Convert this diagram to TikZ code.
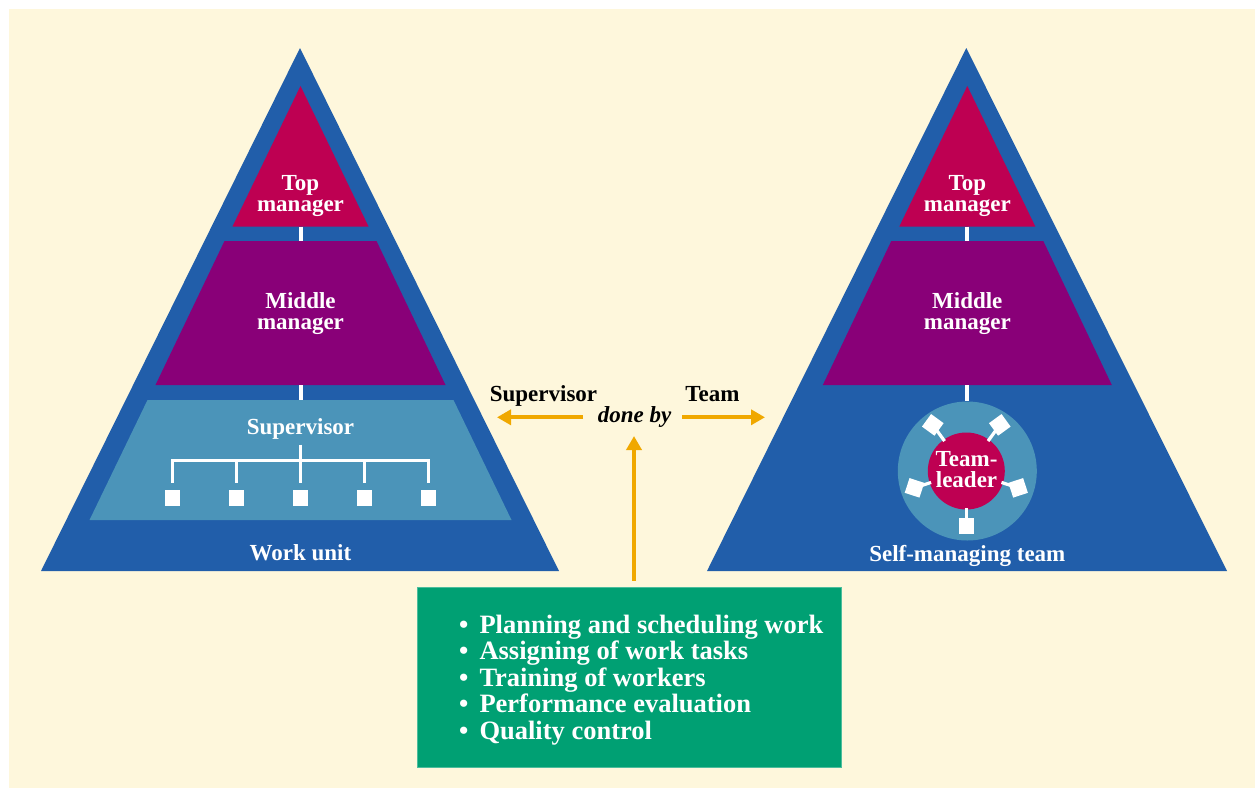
\documentclass[tikz,border=0pt]{standalone}
\usepackage{fontspec}
\setmainfont{Liberation Serif}
\usetikzlibrary{arrows.meta,calc}
\definecolor{cream}{RGB}{254,247,220}
\definecolor{pyrblue}{RGB}{33,94,170}
\definecolor{topmag}{RGB}{190,0,82}
\definecolor{midpur}{RGB}{137,0,120}
\definecolor{suplight}{RGB}{75,148,185}
\definecolor{boxgreen}{RGB}{0,160,115}
\definecolor{arrorange}{RGB}{240,168,0}
\tikzset{
  lbl/.style={anchor=base, inner sep=0pt, text=white, font=\fontsize{23}{20}\selectfont\bfseries},
  blk/.style={anchor=base, inner sep=0pt, text=black, font=\fontsize{23}{20}\selectfont\bfseries},
  item/.style={anchor=base west, inner sep=0pt, text=white, font=\fontsize{26.5}{26.5}\selectfont\bfseries},
  wline/.style={draw=white, line width=4pt},
  tline/.style={draw=white, line width=3.4pt},
  oarrow/.style={draw=arrorange, line width=4pt, -{Triangle[length=14pt,width=15pt]}},
  wsq/.style={fill=white, inner sep=0pt, minimum size=15.5pt, draw=none}
}
\begin{document}
\begin{tikzpicture}[x=1pt,y=-1pt]
\useasboundingbox (0,0) rectangle (1258,788);
\fill[white] (0,0) rectangle (1258,788);
\fill[cream] (9,9) rectangle (1255,788);

% ---------- left pyramid ----------
\def\cx{300.5}
\fill[pyrblue] (\cx-0.5,48) -- (\cx+258.5,571) -- (\cx-259.5,571) -- cycle;
\fill[topmag] (\cx,86) -- (\cx+68,226.5) -- (\cx-68,226.5) -- cycle;
\fill[midpur] (\cx-76,241) -- (\cx+76,241) -- (\cx+145,385) -- (\cx-145,385) -- cycle;
\fill[suplight] (\cx-153,400) -- (\cx+153,400) -- (\cx+211,520) -- (\cx-211,520) -- cycle;
\coordinate (Lt1) at (\cx,226.5); \coordinate (Lm1) at (\cx,241);
\coordinate (Lm2) at (\cx,385);   \coordinate (Ls1) at (\cx,400);
\draw[wline] (Lt1) -- (Lm1);
\draw[wline] (Lm2) -- (Ls1);
\node[lbl] (Ltop1) at (\cx,190.3) {Top};
\node[lbl] (Ltop2) at (\cx,211.6) {manager};
\node[lbl] (Lmid1) at (\cx,308) {Middle};
\node[lbl] (Lmid2) at (\cx,329) {manager};
\node[lbl] (Lsup) at (\cx,434) {Supervisor};
\node[lbl] (Lwork) at (\cx,560.5) {Work unit};
% tree
\coordinate (Troot) at (\cx,444.7);
\coordinate (Tbar) at (\cx,460.7);
\foreach \i/\x in {1/172.3,2/236.5,3/300.5,4/364.5,5/428.5}{
  \node[wsq] (w\i) at (\x,498) {};
}
\draw[tline] (Troot) -- (Tbar);
\draw[tline] (w1.north |- 0,482.7) -- (w1.north |- 0,460.7) -- (w5.north |- 0,460.7) -- (w5.north |- 0,482.7);
\foreach \i in {2,3,4}{
  \draw[tline] (w\i.north |- 0,460.7) -- (w\i.north |- 0,482.7);
}

% ---------- right pyramid ----------
\def\rx{967.3}
\fill[pyrblue] (\rx-1,48) -- (\rx+259.7,571) -- (\rx-260.3,571) -- cycle;
\fill[topmag] (\rx,86) -- (\rx+68,226.5) -- (\rx-68,226.5) -- cycle;
\fill[midpur] (\rx-76,241) -- (\rx+76,241) -- (\rx+144.5,385) -- (\rx-144.5,385) -- cycle;
\node[circle, fill=suplight, minimum size=139pt, inner sep=0pt] (ring) at (\rx,471) {};
\node[circle, fill=topmag, minimum size=77pt, inner sep=0pt] (leader) at (966.3,471) {};
\coordinate (Rt1) at (\rx,226.5); \coordinate (Rm1) at (\rx,241);
\coordinate (Rm2) at (\rx,385);
\draw[wline] (Rt1) -- (Rm1);
\draw[wline] (Rm2) -- (ring.north);
\foreach \i/\a/\d in {1/90/55,2/162/54.5,3/234/57,4/306/57,5/18/54.5}{
  \node[wsq, rotate=\a] (m\i) at ($(leader.center)+(\a:\d)$) {};
  \draw[white, line width=3.2pt] ($(leader.center)+(\a:37)$) -- (m\i.center);
}
\node[lbl] (Rtop1) at (\rx,190.3) {Top};
\node[lbl] (Rtop2) at (\rx,211.6) {manager};
\node[lbl] (Rmid1) at (\rx,308) {Middle};
\node[lbl] (Rmid2) at (\rx,329) {manager};
\node[lbl] (Rtl1) at (966.5,466.8) {Team-};
\node[lbl] (Rtl2) at (966.5,487.5) {leader};
\node[lbl] (Rself) at (\rx,561.5) {Self-managing team};

% ---------- middle ----------
\node[blk] (supv) at (543.5,401.7) {Supervisor};
\node[blk] (team) at (712.5,401.7) {Team};
\node[blk, font=\fontsize{23}{20}\selectfont\bfseries\itshape] (doneby) at (634.5,422.7) {done by};
\coordinate (la0) at (583,417.3); \coordinate (la1) at (497,417.3);
\coordinate (ra0) at (682,417.3); \coordinate (ra1) at (765,417.3);
\draw[oarrow] (la0) -- (la1);
\draw[oarrow] (ra0) -- (ra1);

\node[fill=boxgreen, draw=boxgreen!70!white, line width=0.8pt, minimum width=423.4pt, minimum height=180.6pt, inner sep=0pt, anchor=north west] (tasks) at (417.3,586.7) {};
\coordinate (ua0) at (634,580.7); \coordinate (ua1) at (634,436);
\draw[oarrow] (ua0) -- (ua1);
\foreach \i/\y/\t in {1/633.3/Planning and scheduling work,2/659.9/Assigning of work tasks,3/686.4/Training of workers,4/712.9/Performance evaluation,5/739.4/Quality control}{
  \node[item] (task\i) at (479.3,\y) {\llap{\textbullet\hspace{11pt}}\t};
}
\end{tikzpicture}
\end{document}
